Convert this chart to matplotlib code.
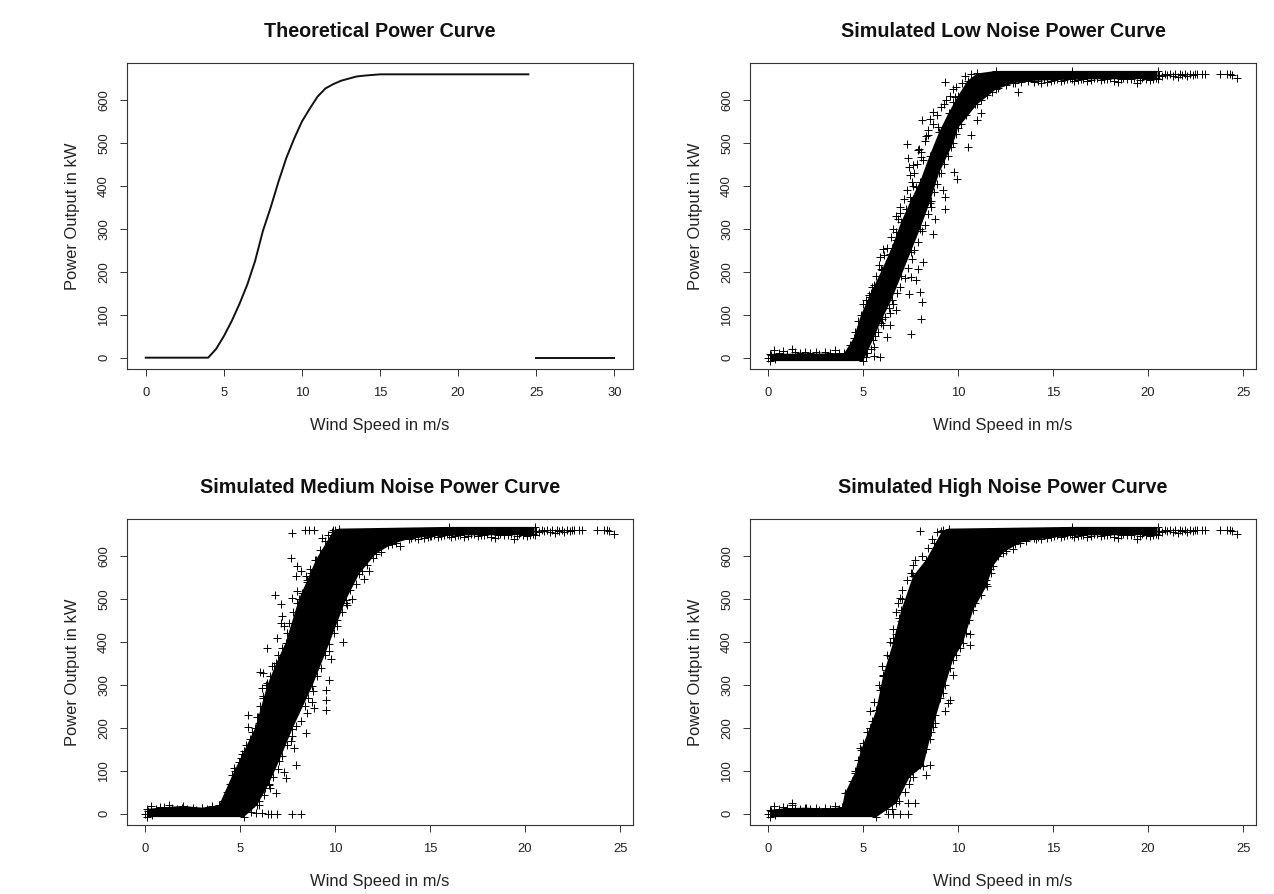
import matplotlib
matplotlib.use('Agg')
import matplotlib.pyplot as plt

plt.rcParams['font.family'] = ['Liberation Sans', 'DejaVu Sans']

# theoretical curve
curve_x = [0, 1, 2, 3, 4, 4.5, 5, 5.5, 6, 6.5, 7, 7.5, 8, 8.5, 9, 9.5, 10, 10.5, 11, 11.5, 12, 12.5, 13, 13.5, 14, 15, 20, 24.5]
curve_y = [0, 0, 0, 0, 0, 20, 50, 85, 125, 170, 225, 295, 350, 410, 465, 510, 550, 580, 608, 627, 637, 645, 650, 655, 657, 660, 660, 660]
cutout_x = [25, 30]
cutout_y = [0, 0]

# points shared by the simulated panels (tail of the curve, low wind)
tail_x = [20.6, 20.75, 20.9, 21.0, 21.15, 21.3, 21.4, 21.55, 21.7, 21.8, 21.95, 22.05, 22.2, 22.35, 22.45, 22.6, 22.85, 23.0, 23.8, 24.15, 24.3, 24.4, 24.7]
tail_y = [659, 656, 660, 658, 661, 657, 660, 654, 660, 659, 661, 657, 660, 658, 660, 661, 660, 660, 660, 660, 660, 659, 652]
plateau_x = [14.0, 14.2, 14.35, 14.5, 14.7, 14.9, 15.05, 15.2, 15.4, 15.6, 15.75, 15.9, 16.1, 16.3, 16.45, 16.6, 16.8, 17.0, 17.15, 17.3, 17.5, 17.7, 17.85, 18.0, 18.2, 18.4, 18.55, 18.7, 18.9, 19.1, 19.25, 19.4, 19.55, 19.7, 19.9, 20.1, 20.25, 20.4]
plateau_y = [641, 645, 640, 648, 643, 644, 647, 650, 644, 646, 649, 651, 645, 647, 650, 650, 644, 646, 651, 652, 647, 648, 650, 651, 645, 642, 649, 652, 650, 648, 651, 640, 647, 651, 649, 646, 650, 652]
calm_x = [0.0, 0.15, 0.3, 0.35, 0.6, 0.8, 1.0, 1.25, 1.4, 1.7, 1.95, 2.2, 2.5, 2.7, 3.0, 3.25, 3.5, 3.75]
calm_y = [0, 6, 18, -4, 11, 16, 9, 21, 13, 10, 14, 11, 13, 9, 14, 10, 18, 12]

# low noise: outline of the solid band, then the loose points around it
low_hi_x = [0.1, 4.0, 4.5, 4.9, 5.4, 6.0, 6.5, 7.0, 7.5, 8.0, 8.5, 9.0, 9.5, 10.0, 10.5, 11.0, 12.0, 16.0, 20.5]
low_hi_y = [9, 10, 45, 100, 150, 205, 255, 315, 365, 410, 470, 525, 570, 610, 645, 662, 668, 668, 668]
low_lo_x = [20.5, 16.0, 14.0, 13.0, 12.0, 11.0, 10.0, 9.75, 9.0, 8.5, 8.0, 7.5, 7.0, 6.5, 6.0, 5.5, 5.2, 5.0, 0.1]
low_lo_y = [649, 648, 645, 640, 625, 590, 535, 500, 430, 360, 300, 245, 190, 135, 90, 40, 10, -8, -8]
low_x = [9.3, 7.32, 7.37, 7.42, 7.63, 7.49, 7.89, 7.95, 8.12, 8.5, 8.68, 8.33, 8.42, 8.95, 9.12, 9.39, 9.82, 9.91, 9.74, 8.07, 8.16, 7.63, 7.81, 7.46, 7.28, 6.93, 6.84, 6.72, 6.75, 6.05, 5.88, 6.4, 5.96, 5.49, 5.35, 5.7, 7.54, 8.07, 8.12, 7.98, 7.81, 8.16, 7.89, 7.54, 7.42, 6.75, 6.4, 6.26, 6.4, 6.05, 5.88, 5.6, 5.18, 5.6, 8.68, 8.77, 8.6, 9.3, 9.3, 9.21, 9.95, 9.77, 10.53, 10.7, 11.02, 11.23, 13.16]
low_y = [641, 497, 466, 444, 448, 425, 483, 485, 553, 557, 573, 516, 518, 538, 584, 600, 608, 631, 596, 468, 460, 399, 398, 375, 347, 338, 324, 293, 273, 252, 235, 242, 207, 165, 141, 153, 54, 91, 130, 153, 180, 223, 207, 188, 149, 110, 103, 48, 75, 75, 2, 3, 2, 25, 289, 324, 351, 347, 375, 390, 417, 433, 491, 518, 553, 569, 619]
low_edge_x = [4.3, 4.6, 4.75, 5.0, 5.15, 5.3, 5.55, 5.7, 5.85, 6.1, 6.25, 6.45, 6.6, 6.75, 6.95, 7.15, 7.3, 7.55, 7.7, 7.85, 8.05, 8.25, 8.4, 8.7, 8.9, 9.25, 9.55, 9.75, 10.2, 10.35, 10.7,
              5.4, 5.65, 5.8, 5.95, 6.15, 6.35, 6.55, 6.8, 6.95, 7.2, 7.35, 7.55, 7.7, 7.9, 8.1, 8.25, 8.4, 8.55, 8.75, 8.9, 9.1, 9.25, 9.45, 9.65, 9.9, 10.15, 10.4, 10.65, 10.9, 11.2, 11.5, 11.8, 12.1, 12.5, 12.9, 13.3, 13.7]
low_edge_y = [30, 60, 85, 125, 135, 145, 170, 190, 215, 240, 255, 280, 300, 330, 350, 370, 390, 410, 430, 450, 480, 505, 530, 545, 565, 590, 610, 625, 640, 655, 660,
              20, 50, 60, 80, 95, 115, 125, 150, 165, 185, 210, 230, 250, 270, 295, 310, 335, 365, 385, 405, 430, 450, 470, 490, 520, 545, 565, 585, 590, 600, 612, 620, 628, 635, 640, 642, 645]

# medium noise
med_hi_x = [0.1, 1.0, 2.0, 3.0, 3.9, 4.6, 5.2, 5.8, 6.44, 6.9, 7.4, 8.1, 8.5, 9.0, 9.86, 10.2, 16.0, 20.5]
med_hi_y = [11, 15, 18, 14, 20, 90, 145, 200, 300, 350, 398, 500, 540, 592, 655, 664, 668, 668]
med_lo_x = [20.5, 16.0, 15.0, 13.9, 13.0, 12.14, 11.26, 10.56, 9.68, 8.8, 7.75, 7.05, 6.5, 5.9, 5.2, 0.1]
med_lo_y = [649, 648, 646, 640, 628, 605, 558, 497, 395, 297, 197, 122, 68, 20, -8, -8]
med_x = [7.72, 8.42, 8.63, 8.89, 9.3, 7.67, 8.02, 8.19, 7.93, 8.46, 8.72, 6.84, 7.14, 7.72, 8.02, 8.28, 7.23, 7.14, 7.32, 6.4, 6.96, 6.04, 6.21, 6.18, 6.21, 6.44, 6.7, 5.44, 5.96, 5.44, 6.0, 5.04, 4.68, 10.42, 9.77, 9.68, 9.51, 9.51, 9.51, 8.89, 8.81, 8.54, 8.46, 7.84, 7.75, 7.93, 7.32, 7.4, 6.88, 6.53, 6.26, 11.53, 11.79, 13.4, 10.91, 10.65, 10.12, 5.82, 6.18, 6.49, 6.61, 6.96, 7.75, 8.19, 6.0, 5.56]
med_y = [653, 660, 660, 660, 641, 596, 577, 565, 553, 553, 561, 509, 489, 503, 518, 514, 460, 443, 437, 386, 409, 330, 328, 293, 269, 304, 343, 230, 226, 203, 211, 129, 106, 400, 361, 312, 289, 265, 242, 246, 261, 234, 188, 153, 180, 114, 98, 82, 47, 67, 44, 547, 565, 623, 500, 487, 437, 1, 1, 0, 0, 0, 0, 0, 20, 5]
med_edge_x = [4.1, 4.3, 4.45, 4.75, 4.95, 5.1, 5.3, 5.5, 5.65, 5.9, 6.05, 6.2, 6.35, 6.6, 6.8, 7.0, 7.2, 7.45, 7.6, 7.8, 8.0, 8.3, 8.5, 8.7, 8.95, 9.2, 9.45, 9.65, 9.9, 10.0,
              5.5, 5.8, 6.0, 6.3, 6.6, 6.75, 7.0, 7.2, 7.45, 7.7, 7.95, 8.2, 8.4, 8.6, 8.85, 9.05, 9.25, 9.45, 9.7, 9.95, 10.1, 10.35, 10.6, 10.8, 11.1, 11.4, 11.7, 12.0, 12.4, 12.8, 13.2]
med_edge_y = [30, 50, 70, 100, 120, 140, 160, 175, 190, 225, 250, 275, 300, 320, 345, 370, 385, 420, 445, 470, 490, 515, 545, 570, 590, 615, 635, 650, 660, 660,
              15, 35, 30, 60, 60, 85, 105, 135, 160, 170, 205, 215, 250, 270, 285, 320, 340, 370, 380, 420, 450, 470, 490, 520, 535, 565, 580, 595, 610, 625, 630]

# high noise
high_hi_x = [0.1, 1.0, 2.0, 3.0, 3.9, 4.04, 4.56, 4.9, 5.35, 5.7, 6.05, 6.58, 7.02, 7.63, 8.33, 9.12, 9.5, 16.0, 20.5]
high_hi_y = [9, 13, 14, 12, 15, 47, 94, 149, 200, 242, 320, 398, 475, 553, 592, 655, 664, 668, 668]
high_lo_x = [20.5, 16.0, 14.1, 13.25, 12.37, 11.84, 11.5, 10.8, 10.26, 9.74, 9.2, 8.68, 8.16, 7.46, 6.75, 5.7, 0.1]
high_lo_y = [649, 648, 639, 631, 608, 577, 530, 475, 398, 359, 281, 203, 110, 86, 24, -8, -8]
high_x = [8.02, 8.74, 9.12, 7.63, 7.54, 7.98, 6.93, 7.07, 6.89, 7.02, 6.58, 6.75, 6.58, 6.44, 6.05, 6.23, 5.88, 6.14, 5.39, 5.79, 5.35, 5.53, 4.86, 5.09, 10.61, 10.65, 9.91, 9.74, 9.56, 9.47, 9.3, 8.6, 8.77, 8.33, 8.54, 7.98, 7.63, 7.72, 7.37, 7.37, 6.93, 6.58, 6.32, 11.75, 11.49, 11.23, 12.89, 1.28]
high_y = [658, 631, 658, 580, 561, 530, 503, 499, 456, 448, 409, 419, 363, 367, 324, 335, 289, 261, 238, 242, 199, 188, 153, 137, 419, 394, 398, 322, 264, 258, 238, 191, 211, 89, 114, 114, 86, 26, 26, 0, 0, 0, 0, 561, 534, 549, 616, 26]
high_edge_x = [4.2, 4.4, 4.6, 4.75, 5.0, 5.2, 5.45, 5.6, 5.85, 6.0, 6.25, 6.4, 6.55, 6.75, 6.85, 7.05, 7.3, 7.55, 7.75, 8.1, 8.4, 8.65, 8.9, 9.2,
               6.2, 6.5, 6.9, 7.2, 7.4, 7.6, 8.0, 8.3, 8.5, 8.8, 9.05, 9.3, 9.6, 9.9, 10.1, 10.4, 10.6, 10.9, 11.2, 11.45, 11.7, 12.1, 12.5, 13.0, 13.6]
high_edge_y = [50, 75, 100, 125, 165, 190, 215, 260, 300, 345, 370, 400, 430, 470, 490, 520, 545, 560, 590, 600, 620, 640, 655, 660,
               10, 10, 30, 50, 70, 100, 130, 150, 175, 230, 270, 300, 340, 370, 385, 420, 450, 490, 510, 545, 570, 600, 612, 628, 634]

y_ticks = [0, 100, 200, 300, 400, 500, 600]
x_ticks_short = [0, 5, 10, 15, 20, 25]
x_ticks_long = [0, 5, 10, 15, 20, 25, 30]


def make_axes(fig, left, top, title, xlim, xticks):
    # box positions are in pixels of the 1274x894 picture
    ax = fig.add_axes([left / 1274, 1 - (top + 306) / 894, 506 / 1274, 306 / 894])
    ax.set_xlim(xlim)
    ax.set_ylim(-26.4, 686.4)
    ax.set_xticks(xticks)
    ax.set_yticks(y_ticks)
    ax.tick_params(length=5.2, width=0.7, color='#333333', labelsize=9.4, labelcolor='#222222', pad=8)
    ax.tick_params(axis='y', labelrotation=90, pad=7)
    for t in ax.get_yticklabels():
        t.set_va('center')
    for s in ax.spines.values():
        s.set_linewidth(0.8)
        s.set_color('#333333')
    ax.set_xlabel('Wind Speed in m/s', fontsize=11.9, color='#222222')
    ax.set_ylabel('Power Output in kW', fontsize=11.9, color='#222222')
    ax.xaxis.set_label_coords(0.5, -49 / 306)
    ax.yaxis.set_label_coords(-47 / 506, 0.5)
    ax.set_title(title, fontsize=14.2, fontweight='bold', color='#111111', pad=19)
    return ax


def noisy_panel(ax, hi_x, hi_y, lo_x, lo_y, pts_x, pts_y, edge_x, edge_y):
    ax.fill(hi_x + lo_x, hi_y + lo_y, color='black', lw=0)
    for xs, ys in [(hi_x, hi_y), (lo_x, lo_y), (pts_x, pts_y), (edge_x, edge_y), (tail_x, tail_y), (plateau_x, plateau_y), (calm_x, calm_y)]:
        ax.plot(xs, ys, '+', color='black', ms=6.2, mew=0.7)


fig = plt.figure(figsize=(12.74, 8.94), dpi=100)

ax1 = make_axes(fig, 127, 63, 'Theoretical Power Curve', (-1.2, 31.2), x_ticks_long)
ax1.plot(curve_x, curve_y, color='#111111', lw=1.4)
ax1.plot(cutout_x, cutout_y, color='#111111', lw=1.4)

ax2 = make_axes(fig, 750, 63, 'Simulated Low Noise Power Curve', (-0.95, 25.68), x_ticks_short)
noisy_panel(ax2, low_hi_x, low_hi_y, low_lo_x, low_lo_y, low_x, low_y, low_edge_x, low_edge_y)

ax3 = make_axes(fig, 127, 519, 'Simulated Medium Noise Power Curve', (-0.95, 25.68), x_ticks_short)
noisy_panel(ax3, med_hi_x, med_hi_y, med_lo_x, med_lo_y, med_x, med_y, med_edge_x, med_edge_y)

ax4 = make_axes(fig, 750, 519, 'Simulated High Noise Power Curve', (-0.95, 25.68), x_ticks_short)
noisy_panel(ax4, high_hi_x, high_hi_y, high_lo_x, high_lo_y, high_x, high_y, high_edge_x, high_edge_y)

fig.savefig('out.png', dpi=100)
